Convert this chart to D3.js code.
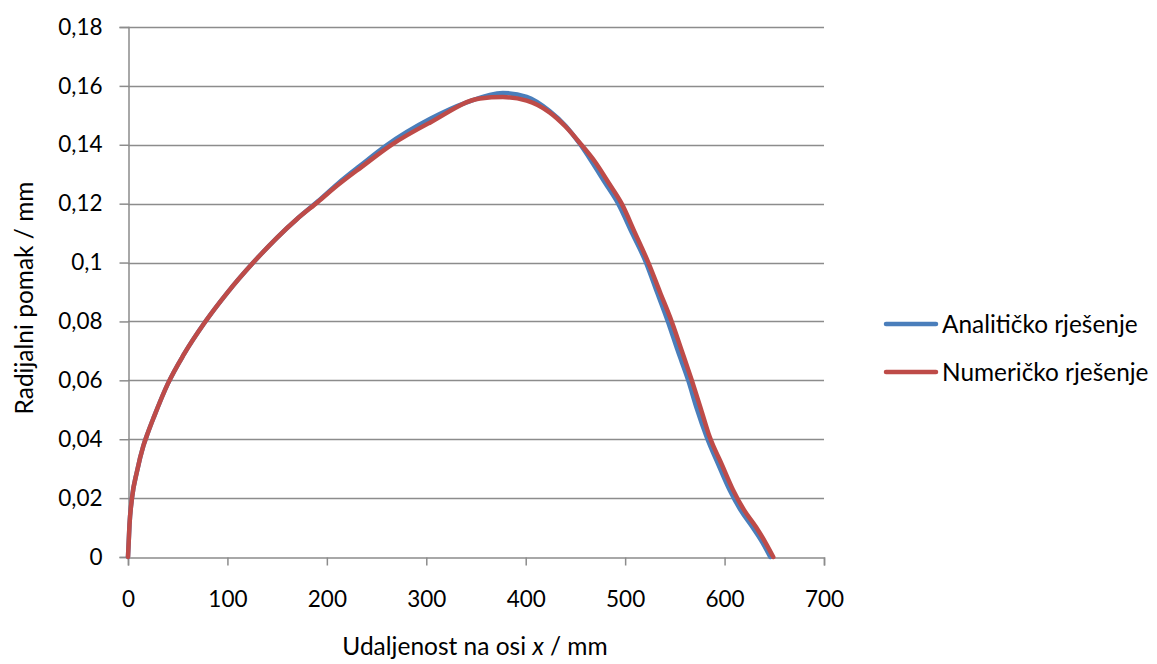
<!DOCTYPE html>
<html>
<head>
<meta charset="utf-8">
<script src="https://cdn.jsdelivr.net/npm/d3@7"></script>
<style>
  html, body { margin: 0; padding: 0; background: #fff; }
  svg { display: block; }
  text { font-family: Lato, "Open Sans", "DejaVu Sans", sans-serif; fill: #000; }
</style>
</head>
<body>
<svg id="chart" width="1157" height="664"></svg>
<script>
// ---- data ----
const analitickoX = [0, 1.5, 4, 9, 15.5, 20, 26, 40, 56, 77.5, 100, 126, 150, 170, 191, 211, 235, 260, 304, 340, 377, 401, 424, 440, 454, 466, 480, 493, 507, 521, 532, 543, 553, 563.5, 572, 582, 594, 605, 616, 628, 638, 646];
const analitickoY = [0, 0.011, 0.02, 0.029, 0.0378, 0.0422, 0.0475, 0.0588, 0.0687, 0.0798, 0.0898, 0.1, 0.1085, 0.1148, 0.1208, 0.1268, 0.1333, 0.1398, 0.1488, 0.1543, 0.1576, 0.1563, 0.1515, 0.1465, 0.1405, 0.1345, 0.127, 0.12, 0.11, 0.1, 0.09, 0.08, 0.07, 0.06, 0.0505, 0.0408, 0.0312, 0.0228, 0.016, 0.0102, 0.005, 0];
const numerickoX = [0, 1.5, 4, 9, 15.5, 20, 26, 40, 56, 77.5, 100, 126, 150, 170, 191, 211, 235, 265, 304, 354, 377, 401, 424, 440, 456, 469.5, 483.5, 496.5, 510, 523.3, 535, 546.8, 557, 567, 576, 585, 597.5, 608.5, 619.5, 631.6, 641, 649];
const numerickoY = [0, 0.011, 0.02, 0.029, 0.0378, 0.0422, 0.0475, 0.0588, 0.0687, 0.0798, 0.0898, 0.1, 0.1085, 0.1148, 0.1206, 0.1263, 0.1325, 0.14, 0.1476, 0.1557, 0.1562, 0.155, 0.151, 0.1462, 0.14, 0.1343, 0.127, 0.12, 0.11, 0.1, 0.09, 0.08, 0.07, 0.06, 0.0505, 0.0408, 0.0312, 0.0228, 0.016, 0.0102, 0.005, 0];

const xTicks = [0, 100, 200, 300, 400, 500, 600, 700];
const yTicks = [0, 0.02, 0.04, 0.06, 0.08, 0.1, 0.12, 0.14, 0.16, 0.18];
const yTickLabels = ["0", "0,02", "0,04", "0,06", "0,08", "0,1", "0,12", "0,14", "0,16", "0,18"];
const seriesNames = ["Analitičko rješenje", "Numeričko rješenje"];
const seriesColors = ["#4a7ebb", "#be4b48"];

// ---- layout ----
const svg = d3.select("#chart");
const plotLeft = 128, plotRight = 824, plotTop = 27, plotBottom = 557;
const x = d3.scaleLinear().domain([0, 700]).range([plotLeft, plotRight]);
const y = d3.scaleLinear().domain([0, 0.18]).range([plotBottom, plotTop]);
const gridColor = "#8c8c8c";
const tickFont = 22.5;

// gridlines
svg.append("g").selectAll("line").data(yTicks.filter(d => d > 0)).join("line")
  .attr("x1", plotLeft).attr("x2", plotRight)
  .attr("y1", d => Math.round(y(d)) + 0.5).attr("y2", d => Math.round(y(d)) + 0.5)
  .attr("stroke", gridColor).attr("stroke-width", 1.5);

// y axis
const yAxis = d3.axisLeft(y).tickValues(yTicks)
  .tickFormat((d, i) => yTickLabels[i]).tickSize(9).tickPadding(17);
const gy = svg.append("g").attr("transform", `translate(${plotLeft + 0.5},0)`).call(yAxis);
gy.select(".domain").attr("stroke", gridColor).attr("stroke-width", 1.5);
gy.selectAll(".tick line").attr("stroke", gridColor).attr("stroke-width", 1.5);
gy.selectAll(".tick text").attr("font-size", tickFont).attr("font-family", "Lato, 'Open Sans', sans-serif").attr("fill", "#000");

// x axis
const xAxis = d3.axisBottom(x).tickValues(xTicks).tickSize(8).tickPadding(26);
const gx = svg.append("g").attr("transform", `translate(0,${plotBottom + 0.5})`).call(xAxis);
gx.select(".domain").attr("stroke", gridColor).attr("stroke-width", 1.5);
gx.selectAll(".tick line").attr("stroke", gridColor).attr("stroke-width", 1.5);
gx.selectAll(".tick text").attr("font-size", tickFont).attr("font-family", "Lato, 'Open Sans', sans-serif").attr("fill", "#000");

// series
const line = d3.line().x(d => x(d[0])).y(d => y(d[1])).curve(d3.curveMonotoneX);
const series = [
  analitickoX.map((v, i) => [v, analitickoY[i]]),
  numerickoX.map((v, i) => [v, numerickoY[i]])
];
series.forEach((s, i) => {
  svg.append("path").datum(s).attr("d", line)
    .attr("fill", "none").attr("stroke", seriesColors[i])
    .attr("stroke-width", 4.5).attr("stroke-linejoin", "round").attr("stroke-linecap", "round");
});

// axis titles
svg.append("text").attr("x", 475).attr("y", 655)
  .attr("text-anchor", "middle").attr("font-size", 24.5)
  .html('Udaljenost na osi <tspan font-style="italic">x</tspan> / mm');
svg.append("text").attr("transform", "translate(33,298) rotate(-90)")
  .attr("text-anchor", "middle").attr("font-size", 24.5)
  .text("Radijalni pomak / mm");

// legend
const legendY = [324, 372];
seriesNames.forEach((name, i) => {
  svg.append("line").attr("x1", 886).attr("x2", 936)
    .attr("y1", legendY[i]).attr("y2", legendY[i])
    .attr("stroke", seriesColors[i]).attr("stroke-width", 4.5).attr("stroke-linecap", "round");
  svg.append("text").attr("x", 942).attr("y", legendY[i]).attr("dy", "0.36em")
    .attr("font-size", 24.4).text(name);
});
</script>
</body>
</html>
